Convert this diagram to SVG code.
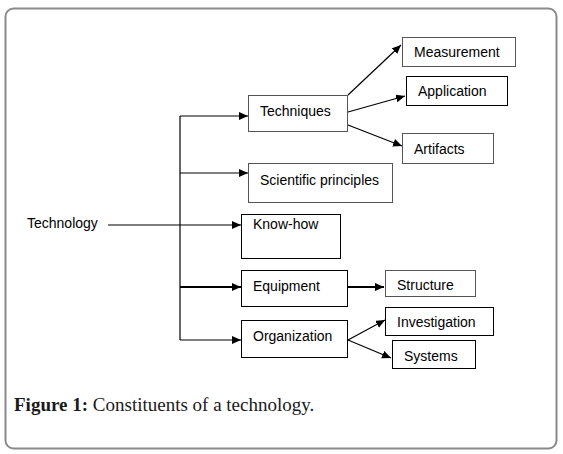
<svg xmlns="http://www.w3.org/2000/svg" width="563" height="454" viewBox="0 0 563 454">
<style>
.box{fill:#fff;stroke:#000;stroke-width:1}
.gbox{fill:#fff;stroke:#555;stroke-width:1}
.lbl{font-family:"Liberation Sans",Arial,sans-serif;font-size:14px;fill:#000}
.ln{fill:none;stroke:#000;stroke-width:1.2}
.thick{stroke-width:2}
.cap{font-family:"Liberation Serif","Times New Roman",serif;font-size:19px;fill:#1a1a1a}
</style>
<defs>
<marker id="ah" markerUnits="userSpaceOnUse" markerWidth="10" markerHeight="10" refX="9" refY="4" orient="auto">
<path d="M0,0 L9,4 L0,8 Z" fill="#000"/>
</marker>
</defs>
<rect x="5.5" y="8.5" width="551" height="440" rx="8" fill="#fff" stroke="#8a8a8a" stroke-width="2"/>

<g id="connectors">
<line class="ln" x1="108" y1="225" x2="241" y2="225" marker-end="url(#ah)"/>
<line class="ln" x1="180" y1="116" x2="180" y2="340"/>
<line class="ln" x1="180" y1="116" x2="248" y2="116" marker-end="url(#ah)"/>
<line class="ln" x1="180" y1="173" x2="248" y2="173" marker-end="url(#ah)"/>
<line class="ln thick" x1="180" y1="287" x2="241" y2="287" marker-end="url(#ah)"/>
<line class="ln" x1="180" y1="340" x2="241" y2="340" marker-end="url(#ah)"/>
<line class="ln" x1="348" y1="95" x2="401" y2="45" marker-end="url(#ah)"/>
<line class="ln" x1="348" y1="112" x2="405" y2="96" marker-end="url(#ah)"/>
<line class="ln" x1="348" y1="125" x2="402" y2="146" marker-end="url(#ah)"/>
<line class="ln thick" x1="348" y1="287" x2="384" y2="287" marker-end="url(#ah)"/>
<line class="ln" x1="348" y1="340" x2="385" y2="320" marker-end="url(#ah)"/>
<line class="ln" x1="348" y1="340" x2="391" y2="358" marker-end="url(#ah)"/>
</g>

<g id="technology"><text class="lbl" x="27" y="228">Technology</text></g>
<g id="techniques"><rect class="gbox" x="248.5" y="95.5" width="99" height="36"/><text class="lbl" x="260" y="116">Techniques</text></g>
<g id="measurement"><rect class="gbox" x="402.5" y="37.5" width="113" height="29"/><text class="lbl" x="414" y="57">Measurement</text></g>
<g id="application"><rect class="box" x="406.5" y="76.5" width="101" height="29"/><text class="lbl" x="418" y="96">Application</text></g>
<g id="artifacts"><rect class="gbox" x="402.5" y="133.5" width="91" height="30"/><text class="lbl" x="414" y="154">Artifacts</text></g>
<g id="scientific"><rect class="gbox" x="248.5" y="163.5" width="144" height="39"/><text class="lbl" x="260" y="185">Scientific principles</text></g>
<g id="knowhow"><rect class="box" x="241.5" y="214.5" width="99" height="44"/><text class="lbl" x="253" y="229">Know-how</text></g>
<g id="equipment"><rect class="box" x="241.5" y="270.5" width="106" height="36"/><text class="lbl" x="253" y="291">Equipment</text></g>
<g id="structure"><rect class="gbox" x="385.5" y="270.5" width="90" height="26"/><text class="lbl" x="397" y="290">Structure</text></g>
<g id="organization"><rect class="box" x="241.5" y="320.5" width="106" height="37"/><text class="lbl" x="253" y="341">Organization</text></g>
<g id="investigation"><rect class="box" x="385.5" y="307.5" width="108" height="28"/><text class="lbl" x="397" y="327">Investigation</text></g>
<g id="systems"><rect class="box" x="392.5" y="340.5" width="83" height="28"/><text class="lbl" x="404" y="361">Systems</text></g>

<text class="cap" x="14" y="411"><tspan font-weight="bold">Figure 1:</tspan> Constituents of a technology.</text>
</svg>
